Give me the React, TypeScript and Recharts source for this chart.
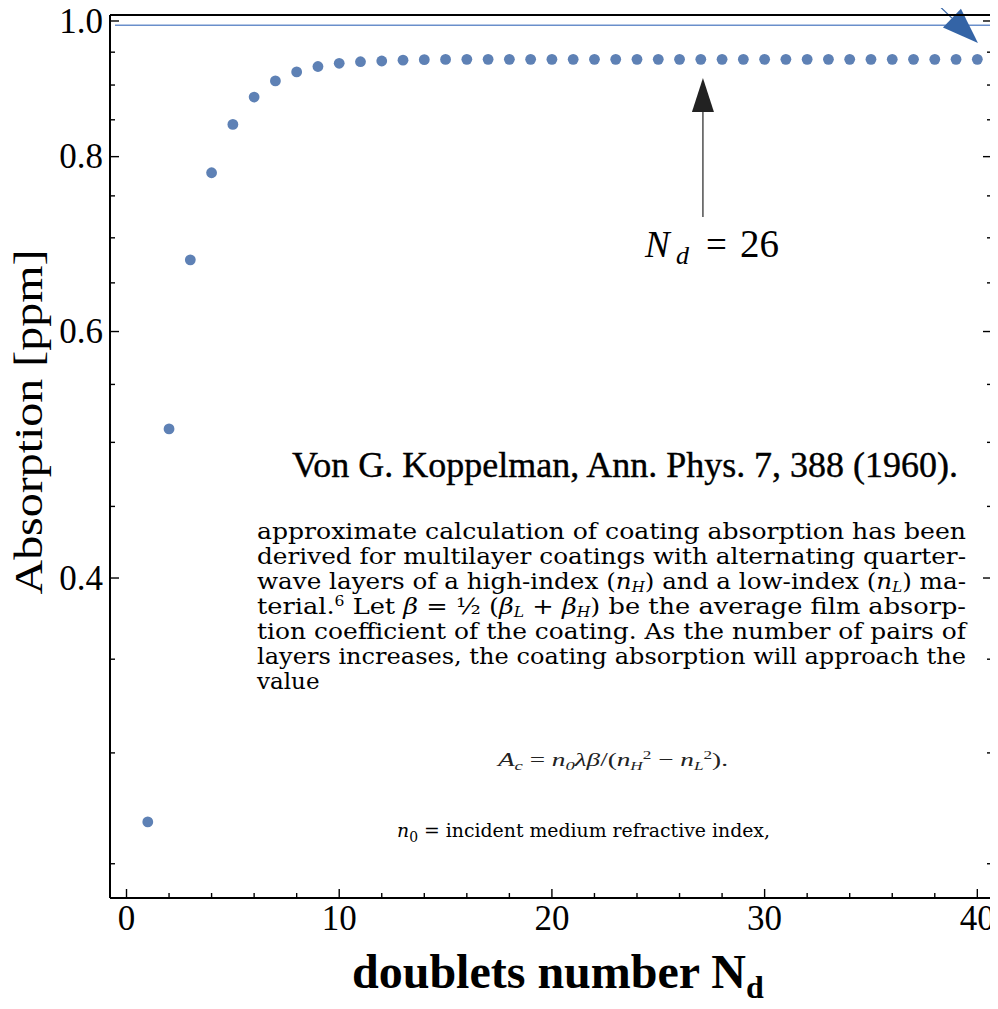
import React from 'react';
import { ScatterChart, Scatter, XAxis, YAxis, ReferenceLine } from 'recharts';

if (typeof document !== 'undefined') {
  document.documentElement.style.overflow = 'hidden';
}

// ---------- data ----------
const doublets = [
  1, 2, 3, 4, 5, 6, 7, 8, 9, 10, 11, 12, 13, 14, 15, 16, 17, 18, 19, 20,
  21, 22, 23, 24, 25, 26, 27, 28, 29, 30, 31, 32, 33, 34, 35, 36, 37, 38, 39, 40,
];
const absorption = [
  0.2678, 0.5112, 0.6751, 0.7791, 0.8436, 0.8824, 0.9061, 0.9196, 0.9279, 0.9328,
  0.9352, 0.9363, 0.9376, 0.9384, 0.9388, 0.9389, 0.9389, 0.9389, 0.9389, 0.9389,
  0.9389, 0.9389, 0.9389, 0.9389, 0.9389, 0.9389, 0.9389, 0.9389, 0.9389, 0.9389,
  0.9389, 0.9389, 0.9389, 0.9389, 0.9389, 0.9389, 0.9389, 0.9389, 0.9389, 0.9389,
];
const xTicks = [0, 2, 4, 6, 8, 10, 12, 14, 16, 18, 20, 22, 24, 26, 28, 30, 32, 34, 36, 38, 40];
const xMajorTicks = [0, 10, 20, 30, 40];
const yTicks = [0.25, 0.3, 0.35, 0.4, 0.45, 0.5, 0.55, 0.6, 0.65, 0.7, 0.75, 0.8, 0.85, 0.9, 0.95, 1.0];
const yMajorTicks = [0.4, 0.6, 0.8, 1.0];
const asymptoteValue = 0.993;
const asymptoteSpan = [-0.54, 41.2];
const markerArrow = [{ x: 27.1, y: 0.7244 }, { x: 27.1, y: 0.9105 }];
const limitArrow = [{ x: 37.92, y: 1.0351 }, { x: 40.03, y: 0.9645 }];

const X_DOMAIN: [number, number] = [-0.776, 40.69];
const Y_DOMAIN: [number, number] = [0.2363, 1.0099];

const data = doublets.map((n, i) => ({ n, a: absorption[i] }));

const SERIF = '"Liberation Serif", "Times New Roman", serif';
const BOOK = '"DejaVu Serif", serif';
const DOT = '#5E81B5';

const isMajorX = (v: number) => xMajorTicks.some((m) => Math.abs(m - v) < 1e-9);
const isMajorY = (v: number) => yMajorTicks.some((m) => Math.abs(m - v) < 1e-9);

const BottomTick = (p: any) => {
  const major = isMajorX(p.payload.value);
  return (
    <g>
      <line x1={p.x} x2={p.x} y1={p.y} y2={p.y - (major ? 9 : 5)} stroke="#000" strokeWidth={1.4} />
      {major && (
        <text x={p.x} y={p.y + 20} dy="0.33em" textAnchor="middle" fontFamily={SERIF} fontSize={35} fill="#000">
          {p.payload.value}
        </text>
      )}
    </g>
  );
};
const TopTick = (p: any) => {
  const major = isMajorX(p.payload.value);
  return <line x1={p.x} x2={p.x} y1={p.y} y2={p.y + (major ? 9 : 5)} stroke="#000" strokeWidth={1.4} />;
};
const LeftTick = (p: any) => {
  const major = isMajorY(p.payload.value);
  return (
    <g>
      <line x1={p.x} x2={p.x + (major ? 9 : 5)} y1={p.y} y2={p.y} stroke="#000" strokeWidth={1.4} />
      {major && (
        <text x={p.x - 7} y={p.y} dy="0.33em" textAnchor="end" fontFamily={SERIF} fontSize={35} fill="#000">
          {Number(p.payload.value).toFixed(1)}
        </text>
      )}
    </g>
  );
};
const RightTick = (p: any) => {
  const major = isMajorY(p.payload.value);
  return <line x1={p.x} x2={p.x - (major ? 9 : 5)} y1={p.y} y2={p.y} stroke="#000" strokeWidth={1.4} />;
};

const Dot = (p: any) => <circle cx={p.cx} cy={p.cy} r={5.4} fill={DOT} />;

const makeArrow = (color: string, width: number, headLen: number, headHalf: number) => (p: any) => {
  const { x1, y1, x2, y2 } = p;
  const dx = x2 - x1;
  const dy = y2 - y1;
  const len = Math.sqrt(dx * dx + dy * dy) || 1;
  const ux = dx / len;
  const uy = dy / len;
  const bx = x2 - ux * headLen;
  const by = y2 - uy * headLen;
  const nx = -uy;
  const ny = ux;
  return (
    <g>
      <line x1={x1} y1={y1} x2={bx} y2={by} stroke={color} strokeWidth={width} />
      <polygon
        points={`${x2},${y2} ${bx + nx * headHalf},${by + ny * headHalf} ${bx - nx * headHalf},${by - ny * headHalf}`}
        fill={color}
      />
    </g>
  );
};
const BlackArrow = makeArrow('#222', 1.2, 34, 11);
const BlueArrow = makeArrow('#3464A6', 1.2, 36, 13);

// subscript / superscript via baseline-shift (negative = down)
const S = (t: string, size: number, shift: number, italic = false) => (
  <tspan fontSize={size} baselineShift={shift} fontStyle={italic ? 'italic' : 'normal'}>{t}</tspan>
);

const W = 998;
const H = 1009;

export default function App() {
  const P = 23; // paragraph font size
  const lineX = 257;
  const lineW = 709;
  const base = 539;
  const gap = 25;
  return (
    <div
      style={{
        position: 'relative',
        width: W,
        height: H,
        marginLeft: -8,
        marginTop: -8,
        marginBottom: -8,
        overflow: 'hidden',
        background: '#fff',
      }}
    >
      <ScatterChart width={W} height={H} margin={{ top: 0, right: 0, bottom: 71, left: 0 }}>
        <XAxis
          xAxisId="b"
          dataKey="n"
          type="number"
          orientation="bottom"
          domain={X_DOMAIN}
          allowDataOverflow
          ticks={xTicks}
          interval={0}
          height={40}
          tickSize={0}
          tickMargin={0}
          tickLine={false}
          axisLine={{ stroke: '#000', strokeWidth: 2 }}
          tick={(p: any) => <BottomTick {...p} />}
        />
        <XAxis
          xAxisId="t"
          type="number"
          orientation="top"
          domain={X_DOMAIN}
          allowDataOverflow
          ticks={xTicks}
          interval={0}
          height={15}
          tickSize={0}
          tickMargin={0}
          tickLine={false}
          axisLine={{ stroke: '#000', strokeWidth: 2 }}
          tick={(p: any) => <TopTick {...p} />}
        />
        <YAxis
          yAxisId="l"
          dataKey="a"
          type="number"
          scale="log"
          domain={Y_DOMAIN}
          allowDataOverflow
          ticks={yTicks}
          interval={0}
          width={110}
          tickSize={0}
          tickMargin={0}
          tickLine={false}
          axisLine={{ stroke: '#000', strokeWidth: 2 }}
          tick={(p: any) => <LeftTick {...p} />}
        />
        <YAxis
          yAxisId="r"
          type="number"
          orientation="right"
          scale="log"
          domain={Y_DOMAIN}
          allowDataOverflow
          ticks={yTicks}
          interval={0}
          width={6}
          tickSize={0}
          tickMargin={0}
          tickLine={false}
          axisLine={{ stroke: '#000', strokeWidth: 2 }}
          tick={(p: any) => <RightTick {...p} />}
        />
        <ReferenceLine
          xAxisId="b"
          yAxisId="l"
          ifOverflow="visible"
          segment={[{ x: asymptoteSpan[0], y: asymptoteValue }, { x: asymptoteSpan[1], y: asymptoteValue }]}
          stroke="#6A8FCB"
          strokeWidth={1.5}
        />
        <Scatter xAxisId="b" yAxisId="l" data={data} dataKey="a" shape={Dot} isAnimationActive={false} />
        <ReferenceLine xAxisId="b" yAxisId="l" ifOverflow="visible" segment={markerArrow} shape={BlackArrow} />
        <ReferenceLine xAxisId="b" yAxisId="l" ifOverflow="visible" segment={limitArrow} shape={BlueArrow} />
      </ScatterChart>
      <svg width={W} height={H} style={{ position: 'absolute', left: 0, top: 0, pointerEvents: 'none', display: 'block' }}>
        {/* axis titles */}
        <text
          x={29}
          y={422}
          transform="rotate(-90 29 422)"
          textAnchor="middle"
          dy="0.33em"
          fontFamily={SERIF}
          fontSize={40}
          textLength={345}
          lengthAdjust="spacingAndGlyphs"
          fill="#000"
        >
          Absorption [ppm]
        </text>
        <text x={352} y={988} fontFamily={SERIF} fontSize={48} fontWeight="bold" fill="#000">
          doublets number N
          <tspan fontSize={32} baselineShift={-10}>d</tspan>
        </text>

        {/* N_d = 26 */}
        <text y={257} fontFamily={SERIF} fontSize={37} fill="#000">
          <tspan x={645} fontStyle="italic">N</tspan>
          <tspan x={676} y={264} fontStyle="italic" fontSize={26}>d</tspan>
          <tspan x={706} y={257}>=</tspan>
          <tspan x={740} y={257} fontSize={39}>26</tspan>
        </text>

        {/* reference title */}
        <text
          x={292}
          y={477}
          fontFamily={SERIF}
          fontSize={36}
          textLength={666}
          lengthAdjust="spacingAndGlyphs"
          fill="#000"
          stroke="#000"
          strokeWidth={0.4}
        >
          Von G. Koppelman, Ann. Phys. 7, 388 (1960).
        </text>

        {/* paragraph */}
        <g fontFamily={BOOK} fontSize={P} fill="#000">
          <text x={lineX} y={base} textLength={lineW} lengthAdjust="spacingAndGlyphs">
            approximate calculation of coating absorption has been
          </text>
          <text x={lineX} y={base + gap} textLength={lineW} lengthAdjust="spacingAndGlyphs">
            derived for multilayer coatings with alternating quarter-
          </text>
          <text x={lineX} y={base + gap * 2} textLength={lineW} lengthAdjust="spacingAndGlyphs">
            {'wave layers of a high-index ('}
            <tspan fontStyle="italic">n</tspan>
            {S('H', 14, -3, true)}
            {') and a low-index ('}
            <tspan fontStyle="italic">n</tspan>
            {S('L', 14, -3, true)}
            {') ma-'}
          </text>
          <text x={lineX} y={base + gap * 3} textLength={lineW} lengthAdjust="spacingAndGlyphs">
            {'terial.'}
            {S('6', 14, 8)}
            {'  Let '}
            <tspan fontStyle="italic">β</tspan>
            {' = ½ ('}
            <tspan fontStyle="italic">β</tspan>
            {S('L', 14, -3, true)}
            {' + '}
            <tspan fontStyle="italic">β</tspan>
            {S('H', 14, -3, true)}
            {') be the average film absorp-'}
          </text>
          <text x={lineX} y={base + gap * 4} textLength={lineW} lengthAdjust="spacingAndGlyphs">
            tion coefficient of the coating.  As the number of pairs of
          </text>
          <text x={lineX} y={base + gap * 5} textLength={lineW} lengthAdjust="spacingAndGlyphs">
            layers increases, the coating absorption will approach the
          </text>
          <text x={lineX} y={base + gap * 6}>value</text>
        </g>

        {/* formula */}
        <text x={498} y={766} fontFamily={SERIF} fontSize={19} textLength={230} lengthAdjust="spacingAndGlyphs" fill="#222">
          <tspan fontStyle="italic">A</tspan>
          {S('c', 13, -4, true)}
          {' =  '}
          <tspan fontStyle="italic">n</tspan>
          {S('0', 13, -4, true)}
          <tspan fontStyle="italic">λβ</tspan>
          {'/('}
          <tspan fontStyle="italic">n</tspan>
          {S('H', 12, -4, true)}
          {S('2', 12, 7)}
          {' − '}
          <tspan fontStyle="italic">n</tspan>
          {S('L', 12, -4, true)}
          {S('2', 12, 7)}
          {').'}
        </text>

        <text x={397} y={837} fontFamily={BOOK} fontSize={19} textLength={373} lengthAdjust="spacingAndGlyphs" fill="#000">
          <tspan fontStyle="italic">n</tspan>
          {S('0', 14, -5)}
          {' = incident medium refractive index,'}
        </text>
      </svg>
    </div>
  );
}
